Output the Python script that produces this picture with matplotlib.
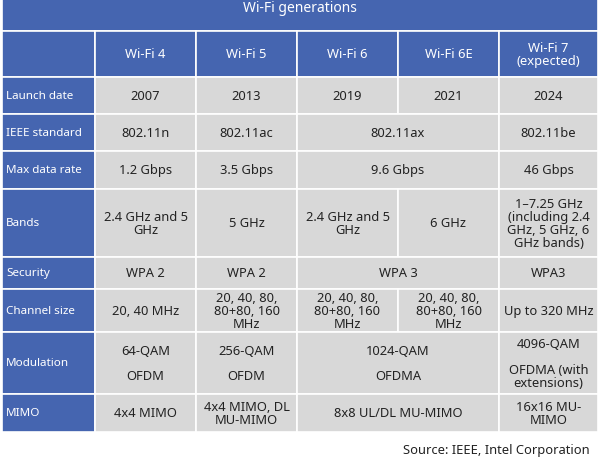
import matplotlib
matplotlib.use("Agg")
import matplotlib.pyplot as plt
from matplotlib.patches import Rectangle

title = "Wi-Fi generations"
generations = ["Wi-Fi 4", "Wi-Fi 5", "Wi-Fi 6", "Wi-Fi 6E", "Wi-Fi 7\n(expected)"]
row_labels = ["Launch date", "IEEE standard", "Max data rate", "Bands", "Security",
              "Channel size", "Modulation", "MIMO"]
# each row: list of (text, span)
launch = [("2007", 1), ("2013", 1), ("2019", 1), ("2021", 1), ("2024", 1)]
ieee = [("802.11n", 1), ("802.11ac", 1), ("802.11ax", 2), ("802.11be", 1)]
rate = [("1.2 Gbps", 1), ("3.5 Gbps", 1), ("9.6 Gbps", 2), ("46 Gbps", 1)]
bands = [("2.4 GHz and 5\nGHz", 1), ("5 GHz", 1), ("2.4 GHz and 5\nGHz", 1), ("6 GHz", 1),
         ("1–7.25 GHz\n(including 2.4\nGHz, 5 GHz, 6\nGHz bands)", 1)]
security = [("WPA 2", 1), ("WPA 2", 1), ("WPA 3", 2), ("WPA3", 1)]
channel = [("20, 40 MHz", 1), ("20, 40, 80,\n80+80, 160\nMHz", 1), ("20, 40, 80,\n80+80, 160\nMHz", 1),
           ("20, 40, 80,\n80+80, 160\nMHz", 1), ("Up to 320 MHz", 1)]
modulation = [("64-QAM\n\nOFDM", 1), ("256-QAM\n\nOFDM", 1), ("1024-QAM\n\nOFDMA", 2),
              ("4096-QAM\n\nOFDMA (with\nextensions)", 1)]
mimo = [("4x4 MIMO", 1), ("4x4 MIMO, DL\nMU-MIMO", 1), ("8x8 UL/DL MU-MIMO", 2), ("16x16 MU-\nMIMO", 1)]
rows = [launch, ieee, rate, bands, security, channel, modulation, mimo]
source = "Source: IEEE, Intel Corporation"

col_x = [2, 95, 196, 297, 398, 499, 598]
row_y = [78, 115, 152, 190, 258, 290, 333, 395, 433]
BLUE = "#4565b0"
GREY = "#d8d8d8"
FONT = "Noto Sans"
FS = 9.3

fig = plt.figure(figsize=(6, 4.6), dpi=100)
ax = fig.add_axes([0, 0, 1, 1])
ax.set_xlim(0, 600)
ax.set_ylim(460, 0)
ax.axis("off")

def cell(x0, x1, y0, y1, color):
    ax.add_patch(Rectangle((x0, y0), x1 - x0, y1 - y0, facecolor=color,
                           edgecolor="white", linewidth=1.2))

cell(col_x[0], col_x[-1], -10, 32, BLUE)
ax.text(300, 8, title, color="white", ha="center", va="center", fontsize=10, family=FONT)
cell(col_x[0], col_x[1], 32, 78, BLUE)
for i, g in enumerate(generations):
    cell(col_x[i + 1], col_x[i + 2], 32, 78, BLUE)
    ax.text((col_x[i + 1] + col_x[i + 2]) / 2, 55, g, color="white", ha="center",
            va="center", fontsize=FS, family=FONT, linespacing=1.1)

for r, (lab, row) in enumerate(zip(row_labels, rows)):
    y0, y1 = row_y[r], row_y[r + 1]
    cell(col_x[0], col_x[1], y0, y1, BLUE)
    ax.text(col_x[0] + 4, (y0 + y1) / 2, lab, color="white", ha="left", va="center",
            fontsize=FS - 0.9, family=FONT)
    c = 1
    for txt, span in row:
        x0, x1 = col_x[c], col_x[c + span]
        cell(x0, x1, y0, y1, GREY)
        ax.text((x0 + x1) / 2, (y0 + y1) / 2, txt, color="#222222", ha="center",
                va="center", fontsize=FS, family=FONT, linespacing=0.98)
        c += span

ax.text(590, 451, source, color="#222222", ha="right", va="center", fontsize=FS, family=FONT)
fig.savefig("out.png", dpi=100, facecolor="white")
